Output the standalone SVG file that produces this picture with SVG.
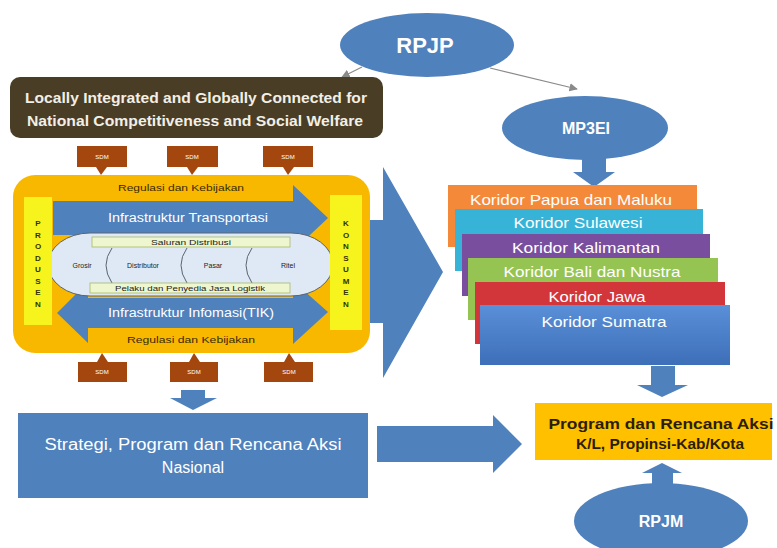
<svg xmlns="http://www.w3.org/2000/svg" width="777" height="548" viewBox="0 0 777 548">
  <style>
    .f { font-family: "Liberation Sans", Arial, sans-serif; }
    .blue { fill: #4f81bd; }
    .sdm { fill: #a3470f; }
    .sdmt { font-family: "Liberation Sans", Arial, sans-serif; font-size: 6px; fill: #ffffff; text-anchor: middle; }
    .reg { font-family: "Liberation Sans", Arial, sans-serif; font-size: 9px; fill: #3a2a00; text-anchor: middle; }
    .vert { font-family: "Liberation Sans", Arial, sans-serif; font-size: 8px; font-weight: bold; fill: #333300; text-anchor: middle; }
    .chain { font-family: "Liberation Sans", Arial, sans-serif; font-size: 7px; fill: #222222; text-anchor: middle; }
    .kor { font-family: "Liberation Sans", Arial, sans-serif; font-size: 15px; fill: #ffffff; text-anchor: middle; }
    .thin { stroke: #8a8a8a; stroke-width: 1.2; fill: none; }
  </style>
  <defs>
    <marker id="tip" viewBox="0 0 10 10" refX="9" refY="5" markerWidth="7" markerHeight="7" orient="auto">
      <path d="M0,0 L10,5 L0,10 z" fill="#8a8a8a"/>
    </marker>
    <linearGradient id="sumatra" x1="0" y1="0" x2="0" y2="1">
      <stop offset="0" stop-color="#5a90d8"/>
      <stop offset="1" stop-color="#3d6fb8"/>
    </linearGradient>
  </defs>
  <rect width="777" height="548" fill="#ffffff"/>

  <!-- block arrows and thin connectors -->
  <g id="connectors">
    <line class="thin" x1="362" y1="67" x2="342" y2="77" marker-end="url(#tip)"/>
    <line class="thin" x1="490" y1="68" x2="577" y2="89" marker-end="url(#tip)"/>
    <!-- big chevron towards the corridors -->
    <polygon class="blue" points="355,220 383,220 383,167 443,272 383,378 383,323 355,323"/>
    <!-- MP3EI down to corridors -->
    <polygon class="blue" points="582,158 606,158 606,172 615,172 594,187 573,172 582,172"/>
    <!-- container down to national strategy -->
    <polygon class="blue" points="181,390 205,390 205,398 217,398 193,410 170,398 181,398"/>
    <!-- national strategy to programme box -->
    <polygon class="blue" points="377,426 493,426 493,415 522,444 493,473 493,462 377,462"/>
    <!-- corridors down to programme box -->
    <polygon class="blue" points="651,366 675,366 675,385 688,385 662,397 637,385 651,385"/>
    <!-- RPJM up to programme box -->
    <polygon class="blue" points="652,490 673,490 673,473 682,473 662,463 642,473 652,473"/>
  </g>

  <g id="rpjp">
    <ellipse class="blue" cx="427" cy="45" rx="87" ry="32"/>
    <text class="f" x="425" y="53" font-size="22" font-weight="bold" fill="#ffffff" text-anchor="middle">RPJP</text>
  </g>

  <g id="mp3ei">
    <ellipse class="blue" cx="585" cy="128" rx="83" ry="32"/>
    <text class="f" x="586" y="134" font-size="16" font-weight="bold" fill="#ffffff" text-anchor="middle">MP3EI</text>
  </g>

  <g id="vision">
    <rect x="10" y="77" width="373" height="61" rx="10" fill="#4a3d25"/>
    <text class="f" x="196" y="103" font-size="15" font-weight="bold" fill="#f2efe6" text-anchor="middle" textLength="342" lengthAdjust="spacingAndGlyphs">Locally Integrated and Globally Connected for</text>
    <text class="f" x="195" y="126" font-size="15" font-weight="bold" fill="#f2efe6" text-anchor="middle" textLength="336" lengthAdjust="spacingAndGlyphs">National Competitiveness and Social Welfare</text>
  </g>

  <g id="framework">
    <rect x="13" y="175" width="357" height="178" rx="22" fill="#f9b800"/>
    <text class="reg" x="181" y="191" textLength="126" lengthAdjust="spacingAndGlyphs">Regulasi dan Kebijakan</text>
    <text class="reg" x="191" y="343" textLength="128" lengthAdjust="spacingAndGlyphs">Regulasi dan Kebijakan</text>

    <!-- transport infrastructure arrow -->
    <polygon class="blue" points="53,201 293,201 293,185 328,218 293,251 293,235 53,235"/>
    <text class="f" x="188" y="222" font-size="12" fill="#ffffff" text-anchor="middle" textLength="160" lengthAdjust="spacingAndGlyphs">Infrastruktur Transportasi</text>

    <!-- information infrastructure arrow -->
    <polygon class="blue" points="57,313 88,282 88,298 293,298 293,281 328,312 293,344 293,328 88,328 88,343"/>
    <text class="f" x="191" y="317" font-size="12" fill="#ffffff" text-anchor="middle" textLength="166" lengthAdjust="spacingAndGlyphs">Infrastruktur Infomasi(TIK)</text>

    <!-- distribution chain -->
    <rect x="48" y="233" width="285" height="63" rx="42" ry="31.5" fill="#dfe9f5" stroke="#5a6470" stroke-width="1"/>
    <path d="M112,248 Q100,265 112,283 M187,248 Q175,265 187,283 M252,248 Q240,265 252,283" fill="none" stroke="#5a6470" stroke-width="1"/>
    <rect x="92" y="237" width="198" height="10" fill="#eef6cf" stroke="#a7b86a" stroke-width="0.8"/>
    <text class="chain" x="191" y="245" textLength="80" lengthAdjust="spacingAndGlyphs">Saluran Distribusi</text>
    <rect x="90" y="283" width="200" height="10" fill="#eef6cf" stroke="#a7b86a" stroke-width="0.8"/>
    <text class="chain" x="190" y="291" textLength="150" lengthAdjust="spacingAndGlyphs">Pelaku dan Penyedia Jasa Logistik</text>
    <text class="chain" x="82" y="268">Grosir</text>
    <text class="chain" x="143" y="268">Distributor</text>
    <text class="chain" x="213" y="268">Pasar</text>
    <text class="chain" x="288" y="268">Ritel</text>

    <!-- producer and consumer bars -->
    <rect x="24" y="197" width="28" height="128" fill="#f7f31c"/>
    <g class="vert">
      <text x="38" y="226">P</text><text x="38" y="237.5">R</text><text x="38" y="249">O</text><text x="38" y="260.5">D</text>
      <text x="38" y="272">U</text><text x="38" y="283.5">S</text><text x="38" y="295">E</text><text x="38" y="306.5">N</text>
    </g>
    <rect x="330" y="195" width="32" height="135" fill="#f7f31c"/>
    <g class="vert">
      <text x="346" y="226">K</text><text x="346" y="237.5">O</text><text x="346" y="249">N</text><text x="346" y="260.5">S</text>
      <text x="346" y="272">U</text><text x="346" y="283.5">M</text><text x="346" y="295">E</text><text x="346" y="306.5">N</text>
    </g>
  </g>

  <g id="sdm-top">
    <rect class="sdm" x="77" y="146" width="50" height="21"/><polygon class="sdm" points="96,167 107,167 101,175"/>
    <text class="sdmt" x="102" y="159">SDM</text>
    <rect class="sdm" x="167" y="146" width="51" height="21"/><polygon class="sdm" points="187,167 198,167 192,175"/>
    <text class="sdmt" x="192" y="159">SDM</text>
    <rect class="sdm" x="263" y="146" width="50" height="21"/><polygon class="sdm" points="283,167 294,167 288,175"/>
    <text class="sdmt" x="288" y="159">SDM</text>
  </g>

  <g id="sdm-bottom">
    <rect class="sdm" x="78" y="362" width="49" height="20"/><polygon class="sdm" points="97,362 108,362 102,353"/>
    <text class="sdmt" x="102" y="374">SDM</text>
    <rect class="sdm" x="170" y="362" width="48" height="20"/><polygon class="sdm" points="189,362 200,362 194,353"/>
    <text class="sdmt" x="194" y="374">SDM</text>
    <rect class="sdm" x="264" y="362" width="49" height="20"/><polygon class="sdm" points="284,362 295,362 289,353"/>
    <text class="sdmt" x="289" y="374">SDM</text>
  </g>

  <g id="national-strategy">
    <rect class="blue" x="18" y="413" width="350" height="85"/>
    <text class="f" x="193" y="450" font-size="16" fill="#ffffff" text-anchor="middle" textLength="297" lengthAdjust="spacingAndGlyphs">Strategi, Program dan Rencana Aksi</text>
    <text class="f" x="193" y="473" font-size="16" fill="#ffffff" text-anchor="middle">Nasional</text>
  </g>

  <g id="corridors">
    <rect x="448" y="185" width="249" height="62" fill="#f5893a"/>
    <text class="kor" x="571" y="205" fill="#fdeede" textLength="202" lengthAdjust="spacingAndGlyphs">Koridor Papua dan Maluku</text>
    <rect x="455" y="209" width="248" height="62" fill="#36b3d6"/>
    <text class="kor" x="578" y="228" textLength="129" lengthAdjust="spacingAndGlyphs">Koridor Sulawesi</text>
    <rect x="462" y="234" width="248" height="62" fill="#7a4e9e"/>
    <text class="kor" x="586" y="253" textLength="148" lengthAdjust="spacingAndGlyphs">Koridor Kalimantan</text>
    <rect x="468" y="258" width="250" height="62" fill="#96c453"/>
    <text class="kor" x="592" y="277" fill="#f6fbe0" textLength="177" lengthAdjust="spacingAndGlyphs">Koridor Bali dan Nustra</text>
    <rect x="475" y="282" width="250" height="62" fill="#d2363b"/>
    <text class="kor" x="597" y="302" textLength="97" lengthAdjust="spacingAndGlyphs">Koridor Jawa</text>
    <rect x="480" y="305" width="250" height="60" fill="url(#sumatra)"/>
    <text class="kor" x="604" y="327" textLength="125" lengthAdjust="spacingAndGlyphs">Koridor Sumatra</text>
  </g>

  <g id="programme">
    <rect x="535" y="403" width="237" height="57" fill="#ffc000"/>
    <text class="f" x="661" y="429" font-size="15" font-weight="bold" fill="#2a1e00" text-anchor="middle" textLength="225" lengthAdjust="spacingAndGlyphs">Program dan Rencana Aksi</text>
    <text class="f" x="660" y="449" font-size="15" font-weight="bold" fill="#2a1e00" text-anchor="middle" textLength="168" lengthAdjust="spacingAndGlyphs">K/L, Propinsi-Kab/Kota</text>
  </g>

  <g id="rpjm">
    <ellipse class="blue" cx="661" cy="521" rx="87" ry="38"/>
    <text class="f" x="661" y="527" font-size="16" font-weight="bold" fill="#ffffff" text-anchor="middle">RPJM</text>
  </g>
</svg>
